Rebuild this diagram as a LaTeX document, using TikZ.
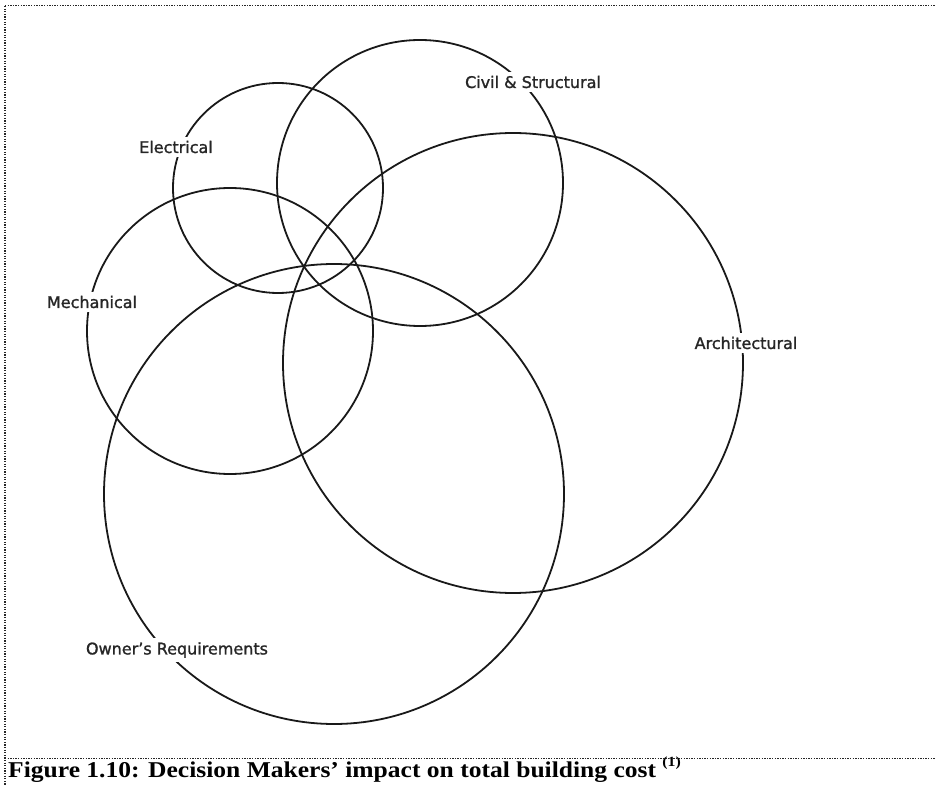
\documentclass[tikz,border=0pt]{standalone}
\usepackage{fontspec}
\usepackage{graphicx}
\setmainfont{Liberation Serif}
\newfontfamily\labelfont[FakeBold=1.3]{DejaVu Sans}
\begin{document}
\begin{tikzpicture}[x=1pt,y=-1pt,
  ring/.style={circle,draw=black!90,line width=1.8pt,inner sep=0pt,minimum size=#1},
  tag/.style={fill=white,inner xsep=1.5pt,inner ysep=4pt,text=black!85,font=\labelfont\fontsize{16}{18}\selectfont},
  frame/.style={draw=black!85,line width=1pt,dash pattern=on 1.3pt off 1.3pt}]
\useasboundingbox (0,0) rectangle (935,786);

% frame around the figure
\draw[frame] (5,6) -- (935,6);
\draw[frame,line width=2pt] (5,6) -- (5,786);
\draw[frame] (5,758) -- (935,758);

% the five decision-maker circles
\node[ring=210pt] (elec)  at (278,188) {};
\node[ring=286pt] (civil) at (420,183) {};
\node[ring=460pt] (arch)  at (513,363) {};
\node[ring=286pt] (mech)  at (230,331) {};
\node[ring=460pt] (owner) at (334,494) {};

% labels sitting on the circle outlines
\node[tag] (lelec)  at (176,147) {Electrical};
\node[tag] (lcivil) at (533,82)  {Civil \& Structural};
\node[tag] (larch)  at (746,343) {Architectural};
\node[tag] (lmech)  at (92,302)  {Mechanical};
\node[tag] (lowner) at (177,650) {Owner’s Requirements};

% caption
\node[anchor=base west,inner sep=0pt,font=\bfseries\fontsize{22.6}{24}\selectfont] (cap) at (8,777)
  {\scalebox{1.13}[1]{Figure 1.10: Decision Makers’ impact on total building cost \raisebox{0.45em}{\fontsize{14}{16}\selectfont (1)}}};
\end{tikzpicture}
\end{document}
